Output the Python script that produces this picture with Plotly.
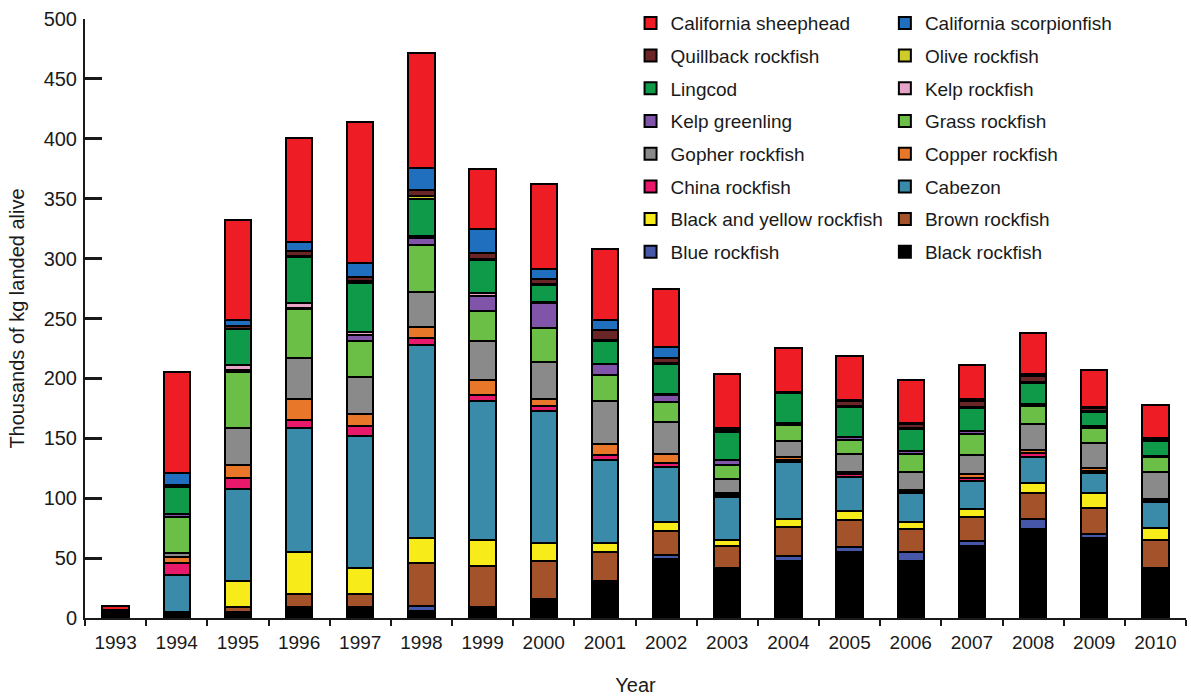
import plotly.graph_objects as go

years = [str(y) for y in range(1993, 2011)]

# Thousands of kg landed alive, by species and year (1993-2010)
black_rockfish = [7, 5, 5, 9, 9, 6, 8, 16, 31, 49, 42, 48, 55, 48, 60, 74, 67, 40]
blue_rockfish = [0, 0, 0, 0, 0, 4, 1, 0, 0, 4, 0, 4, 4, 7, 4, 9, 3, 2]
brown_rockfish = [0, 0, 4, 11, 11, 36, 34, 32, 24, 20, 18, 24, 23, 19, 20, 21, 22, 23]
black_and_yellow = [0, 0, 22, 35, 22, 21, 22, 15, 8, 7, 5, 7, 7, 6, 7, 9, 12, 10]
cabezon = [0, 31, 77, 104, 110, 161, 116, 110, 69, 46, 36, 47, 29, 24, 23, 21, 17, 22]
china_rockfish = [0, 10, 9, 6, 8, 6, 5, 4, 4, 3, 2, 2, 2, 2, 3, 4, 2, 1]
copper_rockfish = [0, 5, 11, 18, 10, 9, 13, 6, 9, 8, 1, 2, 2, 1, 3, 2, 2, 1]
gopher_rockfish = [0, 3, 31, 34, 31, 29, 32, 31, 36, 27, 12, 14, 15, 15, 16, 22, 21, 23]
grass_rockfish = [0, 30, 46, 41, 30, 39, 25, 28, 22, 16, 12, 13, 12, 15, 18, 15, 13, 12]
kelp_greenling = [0, 3, 2, 1, 5, 6, 13, 21, 9, 6, 4, 2, 2, 2, 2, 2, 1, 1]
kelp_rockfish = [0, 0, 4, 4, 3, 2, 2, 1, 0, 1, 0, 0, 0, 0, 0, 0, 0, 0]
lingcod = [0, 22, 30, 38, 41, 31, 28, 14, 19, 25, 23, 25, 25, 19, 19, 17, 12, 13]
olive_rockfish = [0, 0, 0, 1, 1, 2, 1, 1, 1, 1, 1, 0, 1, 1, 1, 1, 1, 1]
quillback_rockfish = [0, 2, 3, 4, 4, 5, 5, 4, 8, 4, 2, 1, 4, 3, 5, 5, 2, 1]
california_scorpionfish = [0, 10, 5, 8, 11, 19, 20, 8, 9, 9, 1, 0, 1, 1, 2, 2, 1, 0]
california_sheephead = [3, 84, 83, 87, 118, 96, 50, 71, 59, 49, 45, 36, 37, 36, 28, 34, 31, 28]

# Stack order from the bottom up: (name, values, colour)
series = [
    ("Black rockfish", black_rockfish, "#000000"),
    ("Blue rockfish", blue_rockfish, "#4656A8"),
    ("Brown rockfish", brown_rockfish, "#A3522A"),
    ("Black and yellow rockfish", black_and_yellow, "#F7EC1A"),
    ("Cabezon", cabezon, "#3A8BAA"),
    ("China rockfish", china_rockfish, "#E8196B"),
    ("Copper rockfish", copper_rockfish, "#E8772A"),
    ("Gopher rockfish", gopher_rockfish, "#8A8A8A"),
    ("Grass rockfish", grass_rockfish, "#6BBF47"),
    ("Kelp greenling", kelp_greenling, "#8054A8"),
    ("Kelp rockfish", kelp_rockfish, "#E6A4C6"),
    ("Lingcod", lingcod, "#0F9A4A"),
    ("Olive rockfish", olive_rockfish, "#CFCB2A"),
    ("Quillback rockfish", quillback_rockfish, "#6A2626"),
    ("California scorpionfish", california_scorpionfish, "#1F6FBE"),
    ("California sheephead", california_sheephead, "#EE1D25"),
]

FONT = "Liberation Sans, Arial, Helvetica, sans-serif"
n = len(series)

fig = go.Figure()
for i, (name, vals, color) in enumerate(series):
    # odd stack positions go in the left legend column, even in the right
    legend_id = "legend" if i % 2 == 1 else "legend2"
    fig.add_trace(go.Bar(
        x=years, y=vals, name=name,
        marker=dict(color=color, line=dict(color="#000000", width=2)),
        legend=legend_id, legendgroup=name, legendrank=n - i,
    ))

legend_common = dict(
    font=dict(family=FONT, size=19, color="#1a1a1a"),
    traceorder="grouped", tracegroupgap=5,
    bgcolor="rgba(0,0,0,0)", borderwidth=0,
    xanchor="left", yanchor="top", y=1.025,
)

fig.update_layout(
    width=1191, height=696,
    margin=dict(l=85, r=5, t=19, b=78, autoexpand=False),
    barmode="stack", bargap=0.57,
    plot_bgcolor="white", paper_bgcolor="white",
    font=dict(family=FONT, size=20, color="#1a1a1a"),
    legend=dict(x=0.4955, **legend_common),
    legend2=dict(x=0.7265, **legend_common),
    xaxis=dict(
        type="category", range=[-0.5, len(years) - 0.5],
        showline=True, linecolor="#1a1a1a", linewidth=2,
        ticks="outside", ticklen=6, tickwidth=2, tickcolor="#1a1a1a",
        tickson="boundaries", showgrid=False, zeroline=False,
        ticklabelstandoff=6,
        tickfont=dict(size=19),
        title=dict(text="Year", font=dict(size=20), standoff=27),
    ),
    yaxis=dict(
        range=[0, 500], tickvals=list(range(0, 501, 50)),
        showline=True, linecolor="#1a1a1a", linewidth=2,
        ticks="inside", ticklen=17, tickwidth=2.5, tickcolor="#1a1a1a",
        ticklabelstandoff=2, showgrid=False, zeroline=False,
        tickfont=dict(size=20),
        title=dict(text="Thousands of kg landed alive", font=dict(size=20), standoff=14),
    ),
)

fig.write_html("out.html")
